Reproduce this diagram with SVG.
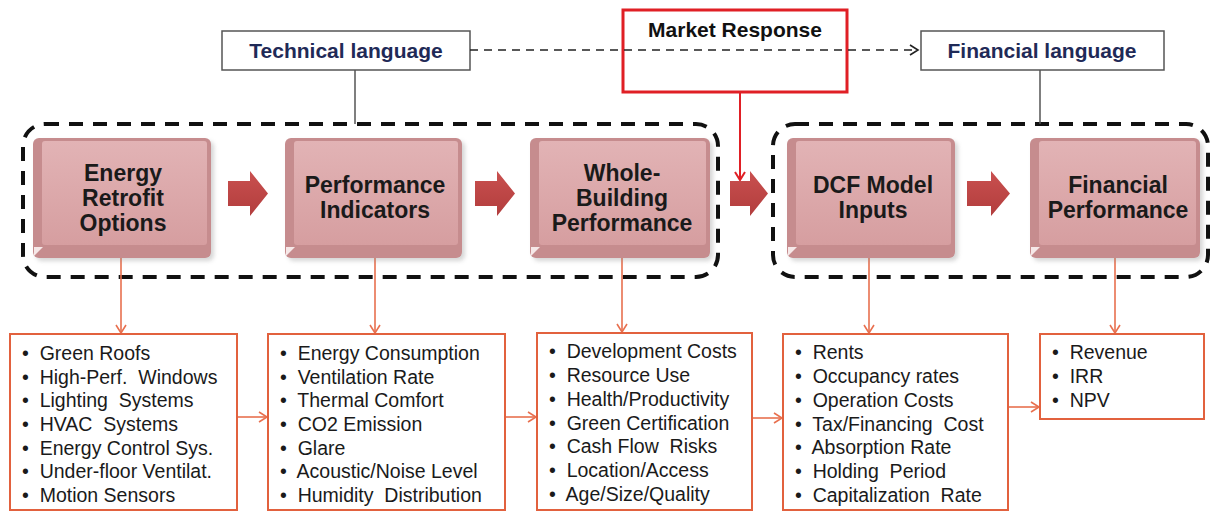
<svg xmlns="http://www.w3.org/2000/svg" width="1211" height="513" viewBox="0 0 1211 513">
  <style>
    text { font-family: "Liberation Sans", Arial, sans-serif; }
    .lang { fill: #ffffff; stroke: #555555; stroke-width: 1.5; }
    .langtxt { font-size: 21px; font-weight: bold; fill: #1f2a57; text-anchor: middle; }
    .mkt { fill: none; stroke: #e01f25; stroke-width: 3; }
    .mkttxt { font-size: 21px; font-weight: bold; fill: #111111; text-anchor: middle; }
    .group { fill: none; stroke: #111111; stroke-width: 4; stroke-dasharray: 14 10; }
    .shadow { fill: #8a8a8a; opacity: 0.35; filter: url(#soft); }
    .base { fill: #c68c8e; }
    .face { fill: url(#faceGrad); }
    .notch { fill: #f6e8e8; }
    .ntxt { font-size: 23px; font-weight: bold; fill: #1a1a1a; text-anchor: middle; }
    .bigarrow { fill: url(#arrowGrad); }
    .list { fill: #ffffff; stroke: #e2613e; stroke-width: 2; }
    .ltxt { font-size: 19.5px; fill: #1a1a1a; }
    .link { fill: none; stroke: #e8704f; stroke-width: 1.6; marker-end: url(#openOrange); }
    .tie { fill: none; stroke: #555555; stroke-width: 1.5; }
    .dashed { fill: none; stroke: #222222; stroke-width: 1.6; stroke-dasharray: 8 6; marker-end: url(#openBlack); }
    .red { fill: none; stroke: #e01f25; stroke-width: 2; marker-end: url(#openRed); }
  </style>
  <defs>
    <filter id="soft" x="-10%" y="-10%" width="120%" height="120%">
      <feGaussianBlur stdDeviation="2"/>
    </filter>
    <linearGradient id="faceGrad" x1="0" y1="0" x2="0" y2="1">
      <stop offset="0" stop-color="#e2b3b5"/>
      <stop offset="1" stop-color="#d69ea0"/>
    </linearGradient>
    <linearGradient id="arrowGrad" x1="0" y1="0" x2="0" y2="1">
      <stop offset="0" stop-color="#c9504f"/>
      <stop offset="1" stop-color="#b23d3d"/>
    </linearGradient>
    <marker id="openOrange" markerUnits="userSpaceOnUse" markerWidth="14" markerHeight="14" refX="9" refY="6" orient="auto">
      <path d="M1,1 L9,6 L1,11" fill="none" stroke="#e8704f" stroke-width="1.6"/>
    </marker>
    <marker id="openBlack" markerUnits="userSpaceOnUse" markerWidth="14" markerHeight="14" refX="9" refY="6" orient="auto">
      <path d="M1,1 L9,6 L1,11" fill="none" stroke="#222222" stroke-width="1.6"/>
    </marker>
    <marker id="openRed" markerUnits="userSpaceOnUse" markerWidth="14" markerHeight="14" refX="9" refY="6" orient="auto">
      <path d="M1,1 L9,6 L1,11" fill="none" stroke="#e01f25" stroke-width="2"/>
    </marker>
  </defs>

  <rect width="1211" height="513" fill="#ffffff"/>

  <!-- dashed groupings -->
  <g id="technical-group">
    <rect class="group" x="23" y="124" width="695" height="153" rx="22"/>
  </g>
  <g id="financial-group">
    <rect class="group" x="773" y="124" width="435" height="153" rx="22"/>
  </g>

  <!-- language labels -->
  <g id="technical-language">
    <rect class="lang" x="222" y="31" width="248" height="39"/>
    <text class="langtxt" x="346" y="58">Technical language</text>
  </g>
  <g id="financial-language">
    <rect class="lang" x="921" y="31" width="243" height="39"/>
    <text class="langtxt" x="1042" y="58">Financial language</text>
  </g>
  <g id="market-response">
    <rect class="mkt" x="623" y="10" width="224" height="82"/>
    <text class="mkttxt" x="735" y="37">Market Response</text>
  </g>

  <!-- connectors -->
  <g id="connectors">
    <line class="tie" x1="355" y1="70" x2="355" y2="124"/>
    <line class="tie" x1="1040" y1="70" x2="1040" y2="124"/>
    <line class="dashed" x1="470" y1="50" x2="918" y2="50"/>
    <line class="red" x1="740" y1="92" x2="740" y2="180"/>

    <line class="link" x1="121" y1="258" x2="121" y2="333"/>
    <line class="link" x1="375" y1="258" x2="375" y2="333"/>
    <line class="link" x1="622" y1="258" x2="622" y2="332"/>
    <line class="link" x1="869" y1="258" x2="869" y2="333"/>
    <line class="link" x1="1115" y1="258" x2="1115" y2="333"/>

    <line class="link" x1="237" y1="417" x2="267" y2="417"/>
    <line class="link" x1="505" y1="417" x2="536" y2="417"/>
    <line class="link" x1="752" y1="418" x2="782" y2="418"/>
    <line class="link" x1="1008" y1="407" x2="1039" y2="407"/>

    <!-- block arrows between stages -->
    <path class="bigarrow" d="M228,181 H250 V171 L268,193.5 L250,216 V206 H228 Z"/>
    <path class="bigarrow" d="M475,181 H497 V171 L515,193.5 L497,216 V206 H475 Z"/>
    <path class="bigarrow" d="M730,181 H750 V171 L768,193.5 L750,216 V206 H730 Z"/>
    <path class="bigarrow" d="M967,181 H991 V171 L1010,193.5 L991,216 V206 H967 Z"/>
  </g>

  <!-- stage nodes -->
  <g id="energy-retrofit-options">
    <rect class="shadow" x="36" y="141" width="178" height="120" rx="6"/>
    <rect class="base" x="33" y="138" width="178" height="120" rx="6"/>
    <rect class="face" x="42" y="141" width="165" height="104" rx="3"/>
    <polygon class="notch" points="34,256 34,247 43,247"/>
    <text class="ntxt" x="123" y="181">Energy</text>
    <text class="ntxt" x="123" y="206">Retrofit</text>
    <text class="ntxt" x="123" y="231">Options</text>
  </g>
  <g id="performance-indicators">
    <rect class="shadow" x="288" y="141" width="177" height="120" rx="6"/>
    <rect class="base" x="285" y="138" width="177" height="120" rx="6"/>
    <rect class="face" x="294" y="141" width="164" height="104" rx="3"/>
    <polygon class="notch" points="286,256 286,247 295,247"/>
    <text class="ntxt" x="375" y="193">Performance</text>
    <text class="ntxt" x="375" y="218">Indicators</text>
  </g>
  <g id="whole-building-performance">
    <rect class="shadow" x="533" y="141" width="180" height="120" rx="6"/>
    <rect class="base" x="530" y="138" width="180" height="120" rx="6"/>
    <rect class="face" x="539" y="141" width="167" height="104" rx="3"/>
    <polygon class="notch" points="531,256 531,247 540,247"/>
    <text class="ntxt" x="622" y="181">Whole-</text>
    <text class="ntxt" x="622" y="206">Building</text>
    <text class="ntxt" x="622" y="231">Performance</text>
  </g>
  <g id="dcf-model-inputs">
    <rect class="shadow" x="790" y="141" width="168" height="120" rx="6"/>
    <rect class="base" x="787" y="138" width="168" height="120" rx="6"/>
    <rect class="face" x="796" y="141" width="155" height="104" rx="3"/>
    <polygon class="notch" points="788,256 788,247 797,247"/>
    <text class="ntxt" x="873" y="193">DCF Model</text>
    <text class="ntxt" x="873" y="218">Inputs</text>
  </g>
  <g id="financial-performance">
    <rect class="shadow" x="1033" y="141" width="170" height="120" rx="6"/>
    <rect class="base" x="1030" y="138" width="170" height="120" rx="6"/>
    <rect class="face" x="1039" y="141" width="157" height="104" rx="3"/>
    <polygon class="notch" points="1031,256 1031,247 1040,247"/>
    <text class="ntxt" x="1118" y="193">Financial</text>
    <text class="ntxt" x="1118" y="218">Performance</text>
  </g>

  <!-- detail lists -->
  <g id="retrofit-list">
    <rect class="list" x="10" y="334" width="227" height="176"/>
    <text class="ltxt" x="22" y="360" xml:space="preserve">•  Green Roofs</text>
    <text class="ltxt" x="22" y="384" xml:space="preserve">•  High-Perf.  Windows</text>
    <text class="ltxt" x="22" y="407" xml:space="preserve">•  Lighting  Systems</text>
    <text class="ltxt" x="22" y="431" xml:space="preserve">•  HVAC  Systems</text>
    <text class="ltxt" x="22" y="455" xml:space="preserve">•  Energy Control Sys.</text>
    <text class="ltxt" x="22" y="478" xml:space="preserve">•  Under-floor Ventilat.</text>
    <text class="ltxt" x="22" y="502" xml:space="preserve">•  Motion Sensors</text>
  </g>
  <g id="indicator-list">
    <rect class="list" x="268" y="334" width="237" height="176"/>
    <text class="ltxt" x="280" y="360" xml:space="preserve">•  Energy Consumption</text>
    <text class="ltxt" x="280" y="384" xml:space="preserve">•  Ventilation Rate</text>
    <text class="ltxt" x="280" y="407" xml:space="preserve">•  Thermal Comfort</text>
    <text class="ltxt" x="280" y="431" xml:space="preserve">•  CO2 Emission</text>
    <text class="ltxt" x="280" y="455" xml:space="preserve">•  Glare</text>
    <text class="ltxt" x="280" y="478" xml:space="preserve">•  Acoustic/Noise Level</text>
    <text class="ltxt" x="280" y="502" xml:space="preserve">•  Humidity  Distribution</text>
  </g>
  <g id="building-list">
    <rect class="list" x="537" y="333" width="215" height="177"/>
    <text class="ltxt" x="549" y="358" xml:space="preserve">•  Development Costs</text>
    <text class="ltxt" x="549" y="382" xml:space="preserve">•  Resource Use</text>
    <text class="ltxt" x="549" y="406" xml:space="preserve">•  Health/Productivity</text>
    <text class="ltxt" x="549" y="430" xml:space="preserve">•  Green Certification</text>
    <text class="ltxt" x="549" y="453" xml:space="preserve">•  Cash Flow  Risks</text>
    <text class="ltxt" x="549" y="477" xml:space="preserve">•  Location/Access</text>
    <text class="ltxt" x="549" y="501" xml:space="preserve">•  Age/Size/Quality</text>
  </g>
  <g id="dcf-list">
    <rect class="list" x="783" y="334" width="225" height="176"/>
    <text class="ltxt" x="795" y="359" xml:space="preserve">•  Rents</text>
    <text class="ltxt" x="795" y="383" xml:space="preserve">•  Occupancy rates</text>
    <text class="ltxt" x="795" y="407" xml:space="preserve">•  Operation Costs</text>
    <text class="ltxt" x="795" y="431" xml:space="preserve">•  Tax/Financing  Cost</text>
    <text class="ltxt" x="795" y="454" xml:space="preserve">•  Absorption Rate</text>
    <text class="ltxt" x="795" y="478" xml:space="preserve">•  Holding  Period</text>
    <text class="ltxt" x="795" y="502" xml:space="preserve">•  Capitalization  Rate</text>
  </g>
  <g id="financial-list">
    <rect class="list" x="1040" y="334" width="164" height="85"/>
    <text class="ltxt" x="1052" y="359" xml:space="preserve">•  Revenue</text>
    <text class="ltxt" x="1052" y="383" xml:space="preserve">•  IRR</text>
    <text class="ltxt" x="1052" y="407" xml:space="preserve">•  NPV</text>
  </g>
</svg>
